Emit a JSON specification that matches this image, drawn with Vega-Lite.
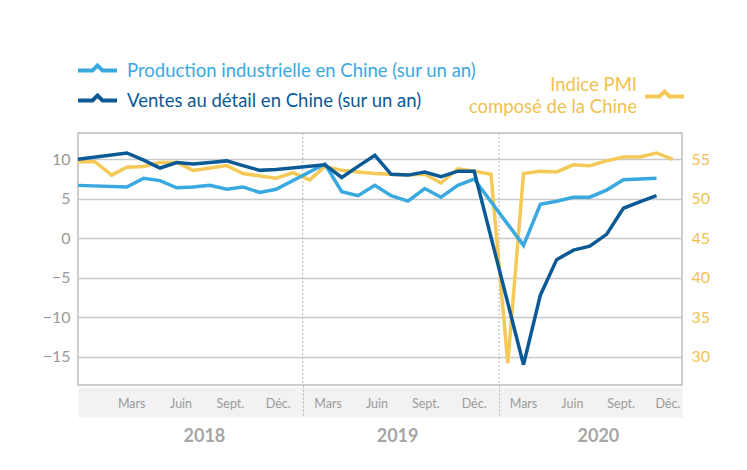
{
  "$schema": "https://vega.github.io/schema/vega-lite/v6.json",
  "width": 604,
  "height": 252,
  "autosize": {"type": "none"},
  "padding": {"left": 78, "top": 133, "right": 65, "bottom": 85},
  "background": "white",
  "config": {
    "view": {"stroke": "#bdbdbd", "strokeWidth": 1.5},
    "font": "Lato"
  },
  "datasets": {
    "dividers": [{"date": "2019-01-19"}, {"date": "2020-01-16"}],
    "pmi": [
      {"date": "2017-12-01", "serie": "PMI", "value": 54.7},
      {"date": "2018-01-01", "serie": "PMI", "value": 54.7},
      {"date": "2018-02-01", "serie": "PMI", "value": 53.0},
      {"date": "2018-03-01", "serie": "PMI", "value": 54.0},
      {"date": "2018-04-01", "serie": "PMI", "value": 54.1},
      {"date": "2018-05-01", "serie": "PMI", "value": 54.6},
      {"date": "2018-06-01", "serie": "PMI", "value": 54.6},
      {"date": "2018-07-01", "serie": "PMI", "value": 53.6},
      {"date": "2018-08-01", "serie": "PMI", "value": 53.9},
      {"date": "2018-09-01", "serie": "PMI", "value": 54.2},
      {"date": "2018-10-01", "serie": "PMI", "value": 53.2},
      {"date": "2018-11-01", "serie": "PMI", "value": 52.9},
      {"date": "2018-12-01", "serie": "PMI", "value": 52.6},
      {"date": "2019-01-01", "serie": "PMI", "value": 53.3},
      {"date": "2019-02-01", "serie": "PMI", "value": 52.4},
      {"date": "2019-03-01", "serie": "PMI", "value": 54.1},
      {"date": "2019-04-01", "serie": "PMI", "value": 53.6},
      {"date": "2019-05-01", "serie": "PMI", "value": 53.4},
      {"date": "2019-06-01", "serie": "PMI", "value": 53.2},
      {"date": "2019-07-01", "serie": "PMI", "value": 53.1},
      {"date": "2019-08-01", "serie": "PMI", "value": 53.0},
      {"date": "2019-09-01", "serie": "PMI", "value": 53.1},
      {"date": "2019-10-01", "serie": "PMI", "value": 52.0},
      {"date": "2019-11-01", "serie": "PMI", "value": 53.8},
      {"date": "2019-12-01", "serie": "PMI", "value": 53.5},
      {"date": "2020-01-01", "serie": "PMI", "value": 53.1},
      {"date": "2020-02-01", "serie": "PMI", "value": 29.2},
      {"date": "2020-03-01", "serie": "PMI", "value": 53.2},
      {"date": "2020-04-01", "serie": "PMI", "value": 53.5},
      {"date": "2020-05-01", "serie": "PMI", "value": 53.4},
      {"date": "2020-06-01", "serie": "PMI", "value": 54.3},
      {"date": "2020-07-01", "serie": "PMI", "value": 54.2},
      {"date": "2020-08-01", "serie": "PMI", "value": 54.8},
      {"date": "2020-09-01", "serie": "PMI", "value": 55.3},
      {"date": "2020-10-01", "serie": "PMI", "value": 55.3},
      {"date": "2020-11-01", "serie": "PMI", "value": 55.8},
      {"date": "2020-12-01", "serie": "PMI", "value": 55.0}
    ],
    "blue": [
      {"date": "2017-12-01", "serie": "Production industrielle en Chine (sur un an)", "value": 6.7},
      {"date": "2018-03-01", "serie": "Production industrielle en Chine (sur un an)", "value": 6.5},
      {"date": "2018-04-01", "serie": "Production industrielle en Chine (sur un an)", "value": 7.6},
      {"date": "2018-05-01", "serie": "Production industrielle en Chine (sur un an)", "value": 7.3},
      {"date": "2018-06-01", "serie": "Production industrielle en Chine (sur un an)", "value": 6.4},
      {"date": "2018-07-01", "serie": "Production industrielle en Chine (sur un an)", "value": 6.5},
      {"date": "2018-08-01", "serie": "Production industrielle en Chine (sur un an)", "value": 6.7},
      {"date": "2018-09-01", "serie": "Production industrielle en Chine (sur un an)", "value": 6.2},
      {"date": "2018-10-01", "serie": "Production industrielle en Chine (sur un an)", "value": 6.5},
      {"date": "2018-11-01", "serie": "Production industrielle en Chine (sur un an)", "value": 5.8},
      {"date": "2018-12-01", "serie": "Production industrielle en Chine (sur un an)", "value": 6.2},
      {"date": "2019-03-01", "serie": "Production industrielle en Chine (sur un an)", "value": 9.4},
      {"date": "2019-04-01", "serie": "Production industrielle en Chine (sur un an)", "value": 5.9},
      {"date": "2019-05-01", "serie": "Production industrielle en Chine (sur un an)", "value": 5.4},
      {"date": "2019-06-01", "serie": "Production industrielle en Chine (sur un an)", "value": 6.7},
      {"date": "2019-07-01", "serie": "Production industrielle en Chine (sur un an)", "value": 5.4},
      {"date": "2019-08-01", "serie": "Production industrielle en Chine (sur un an)", "value": 4.7},
      {"date": "2019-09-01", "serie": "Production industrielle en Chine (sur un an)", "value": 6.3},
      {"date": "2019-10-01", "serie": "Production industrielle en Chine (sur un an)", "value": 5.2},
      {"date": "2019-11-01", "serie": "Production industrielle en Chine (sur un an)", "value": 6.7},
      {"date": "2019-12-01", "serie": "Production industrielle en Chine (sur un an)", "value": 7.5},
      {"date": "2020-03-01", "serie": "Production industrielle en Chine (sur un an)", "value": -0.9},
      {"date": "2020-04-01", "serie": "Production industrielle en Chine (sur un an)", "value": 4.3},
      {"date": "2020-05-01", "serie": "Production industrielle en Chine (sur un an)", "value": 4.7},
      {"date": "2020-06-01", "serie": "Production industrielle en Chine (sur un an)", "value": 5.2},
      {"date": "2020-07-01", "serie": "Production industrielle en Chine (sur un an)", "value": 5.2},
      {"date": "2020-08-01", "serie": "Production industrielle en Chine (sur un an)", "value": 6.1},
      {"date": "2020-09-01", "serie": "Production industrielle en Chine (sur un an)", "value": 7.4},
      {"date": "2020-10-01", "serie": "Production industrielle en Chine (sur un an)", "value": 7.5},
      {"date": "2020-11-01", "serie": "Production industrielle en Chine (sur un an)", "value": 7.6},
      {"date": "2017-12-01", "serie": "Ventes au détail en Chine (sur un an)", "value": 10.0},
      {"date": "2018-03-01", "serie": "Ventes au détail en Chine (sur un an)", "value": 10.8},
      {"date": "2018-04-01", "serie": "Ventes au détail en Chine (sur un an)", "value": 9.9},
      {"date": "2018-05-01", "serie": "Ventes au détail en Chine (sur un an)", "value": 8.9},
      {"date": "2018-06-01", "serie": "Ventes au détail en Chine (sur un an)", "value": 9.6},
      {"date": "2018-07-01", "serie": "Ventes au détail en Chine (sur un an)", "value": 9.4},
      {"date": "2018-08-01", "serie": "Ventes au détail en Chine (sur un an)", "value": 9.6},
      {"date": "2018-09-01", "serie": "Ventes au détail en Chine (sur un an)", "value": 9.8},
      {"date": "2018-10-01", "serie": "Ventes au détail en Chine (sur un an)", "value": 9.2},
      {"date": "2018-11-01", "serie": "Ventes au détail en Chine (sur un an)", "value": 8.6},
      {"date": "2018-12-01", "serie": "Ventes au détail en Chine (sur un an)", "value": 8.7},
      {"date": "2019-03-01", "serie": "Ventes au détail en Chine (sur un an)", "value": 9.3},
      {"date": "2019-04-01", "serie": "Ventes au détail en Chine (sur un an)", "value": 7.7},
      {"date": "2019-05-01", "serie": "Ventes au détail en Chine (sur un an)", "value": 9.1},
      {"date": "2019-06-01", "serie": "Ventes au détail en Chine (sur un an)", "value": 10.5},
      {"date": "2019-07-01", "serie": "Ventes au détail en Chine (sur un an)", "value": 8.1},
      {"date": "2019-08-01", "serie": "Ventes au détail en Chine (sur un an)", "value": 8.0},
      {"date": "2019-09-01", "serie": "Ventes au détail en Chine (sur un an)", "value": 8.4},
      {"date": "2019-10-01", "serie": "Ventes au détail en Chine (sur un an)", "value": 7.8},
      {"date": "2019-11-01", "serie": "Ventes au détail en Chine (sur un an)", "value": 8.5},
      {"date": "2019-12-01", "serie": "Ventes au détail en Chine (sur un an)", "value": 8.5},
      {"date": "2020-03-01", "serie": "Ventes au détail en Chine (sur un an)", "value": -16.0},
      {"date": "2020-04-01", "serie": "Ventes au détail en Chine (sur un an)", "value": -7.2},
      {"date": "2020-05-01", "serie": "Ventes au détail en Chine (sur un an)", "value": -2.7},
      {"date": "2020-06-01", "serie": "Ventes au détail en Chine (sur un an)", "value": -1.5},
      {"date": "2020-07-01", "serie": "Ventes au détail en Chine (sur un an)", "value": -1.0},
      {"date": "2020-08-01", "serie": "Ventes au détail en Chine (sur un an)", "value": 0.5},
      {"date": "2020-09-01", "serie": "Ventes au détail en Chine (sur un an)", "value": 3.8},
      {"date": "2020-10-01", "serie": "Ventes au détail en Chine (sur un an)", "value": 4.6},
      {"date": "2020-11-01", "serie": "Ventes au détail en Chine (sur un an)", "value": 5.4}
    ]
  },
  "layer": [
    {
      "data": {"name": "dividers"},
      "mark": {"type": "rule", "stroke": "#b5b5b5", "strokeWidth": 1, "strokeDash": [2, 2]},
      "encoding": {
        "x": {
          "field": "date", "type": "temporal",
          "scale": {"type": "utc", "domain": [{"year": 2017, "month": 12, "date": 1, "utc": true}, {"year": 2020, "month": 12, "date": 18, "utc": true}]},
          "axis": {
            "orient": "bottom", "offset": 17, "title": null,
            "domain": true, "domainColor": "#f2f2f2", "domainWidth": 30,
            "ticks": false, "grid": false,
            "values": [
              {"year": 2018, "month": 7, "date": 21, "utc": true},
              {"year": 2019, "month": 7, "date": 12, "utc": true},
              {"year": 2020, "month": 7, "date": 16, "utc": true}
            ],
            "labelExpr": "'' + utcyear(datum.value)",
            "labelFont": "Lato", "labelFontWeight": "bold", "labelFontSize": 18,
            "labelColor": "#a6a6a6", "labelPadding": 34, "labelBaseline": "middle",
            "labelFlush": false, "labelOverlap": false, "zindex": 0
          }
        }
      }
    },
    {
      "data": {"name": "pmi"},
      "mark": {"type": "line", "strokeWidth": 3.5},
      "encoding": {
        "x": {
          "field": "date", "type": "temporal",
          "scale": {"type": "utc", "domain": [{"year": 2017, "month": 12, "date": 1, "utc": true}, {"year": 2020, "month": 12, "date": 18, "utc": true}]},
          "axis": null
        },
        "y": {
          "field": "value", "type": "quantitative",
          "scale": {"domain": [26.43, 58.33], "nice": false, "zero": false},
          "axis": {
            "orient": "right", "title": null, "values": [30, 35, 40, 45, 50, 55],
            "grid": false, "domain": false, "ticks": false, "labelPadding": 9,
            "labelFont": "Lato", "labelFontSize": 16, "labelColor": "#f2c14e"
          }
        },
        "stroke": {
          "field": "serie", "type": "nominal",
          "scale": {"domain": ["PMI"], "range": ["#f4c957"]},
          "legend": {
            "orient": "none", "legendX": 577, "legendY": -46, "title": null,
            "symbolType": "M-2.6,0L-0.67,0L0,-0.67L0.67,0L2.6,0",
            "symbolSize": 225, "symbolStrokeWidth": 4, "symbolFillColor": "transparent",
            "labelAlign": "right", "labelOffset": -37, "labelFontSize": 18.5,
            "labelColor": "#f2c14e", "labelLimit": 600,
            "labelExpr": "['Indice PMI', 'composé de la Chine']",
            "encode": {"labels": {"update": {"lineHeight": {"value": 22}, "dy": {"value": -12}}}}
          }
        }
      }
    },
    {
      "data": {"name": "blue"},
      "mark": {"type": "line", "strokeWidth": 3.5},
      "encoding": {
        "x": {
          "field": "date", "type": "temporal",
          "scale": {"type": "utc", "domain": [{"year": 2017, "month": 12, "date": 1, "utc": true}, {"year": 2020, "month": 12, "date": 18, "utc": true}]},
          "axis": {
            "orient": "bottom", "offset": 0, "title": null, "domain": false, "grid": false,
            "ticks": true, "tickSize": 32, "tickColor": "#b5b5b5", "tickDash": [2, 2], "tickWidth": 1,
            "tickOpacity": {"condition": {"test": "utcmonth(datum.value) === 0", "value": 1}, "value": 0},
            "values": [
              {"year": 2018, "month": 3, "date": 9, "utc": true},
              {"year": 2018, "month": 6, "date": 8, "utc": true},
              {"year": 2018, "month": 9, "date": 7, "utc": true},
              {"year": 2018, "month": 12, "date": 4, "utc": true},
              {"year": 2019, "month": 1, "date": 19, "utc": true},
              {"year": 2019, "month": 3, "date": 6, "utc": true},
              {"year": 2019, "month": 6, "date": 4, "utc": true},
              {"year": 2019, "month": 9, "date": 2, "utc": true},
              {"year": 2019, "month": 11, "date": 30, "utc": true},
              {"year": 2020, "month": 1, "date": 16, "utc": true},
              {"year": 2020, "month": 2, "date": 29, "utc": true},
              {"year": 2020, "month": 5, "date": 29, "utc": true},
              {"year": 2020, "month": 8, "date": 27, "utc": true},
              {"year": 2020, "month": 11, "date": 21, "utc": true}
            ],
            "labelExpr": "utcmonth(datum.value) === 0 ? '' : utcmonth(datum.value + 1296000000) == 2 ? 'Mars' : utcmonth(datum.value + 1296000000) == 5 ? 'Juin' : utcmonth(datum.value + 1296000000) == 8 ? 'Sept.' : utcmonth(datum.value + 1296000000) == 11 ? 'Déc.' : ''",
            "labelBaseline": "middle", "labelPadding": -14, "labelOffset": 0,
            "labelFont": "Lato", "labelFontSize": 12.5, "labelColor": "#9b9b9b",
            "labelFlush": false, "labelOverlap": false, "zindex": 1
          }
        },
        "y": {
          "field": "value", "type": "quantitative",
          "scale": {"domain": [-18.57, 13.33], "nice": false, "zero": false},
          "axis": {
            "orient": "left", "title": null, "values": [-15, -10, -5, 0, 5, 10],
            "grid": true, "gridColor": "#c9c9c9", "gridWidth": 1.5,
            "domain": false, "ticks": false, "labelPadding": 8,
            "labelFont": "Lato", "labelFontSize": 16, "labelColor": "#9a9a9a"
          }
        },
        "color": {
          "field": "serie", "type": "nominal",
          "scale": {
            "domain": ["Production industrielle en Chine (sur un an)", "Ventes au détail en Chine (sur un an)"],
            "range": ["#3aa9df", "#0b5a96"]
          },
          "legend": {
            "orient": "none", "legendX": 10, "legendY": -72, "title": null, "direction": "vertical",
            "symbolType": "M-2.6,0L-0.67,0L0,-0.67L0.67,0L2.6,0",
            "symbolSize": 225, "symbolStrokeWidth": 4, "symbolFillColor": "transparent",
            "labelFont": "Lato", "labelFontSize": 18.5, "labelOffset": 20, "rowPadding": 7, "labelLimit": 600,
            "encode": {"labels": {"update": {"fill": {"scale": "color", "field": "value"}}}}
          }
        }
      }
    }
  ],
  "resolve": {"scale": {"y": "independent"}, "axis": {"x": "independent", "y": "independent"}}
}
